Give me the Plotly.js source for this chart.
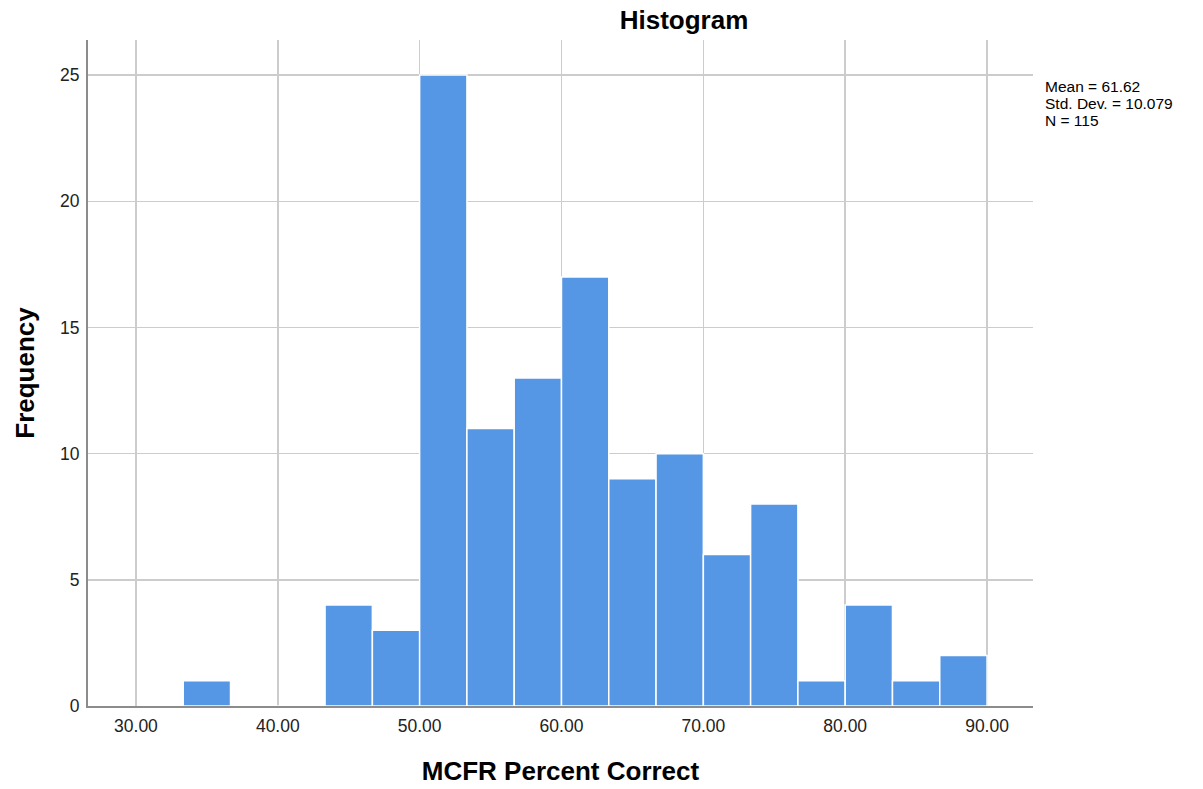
<!DOCTYPE html>
<html>
<head>
<meta charset="utf-8">
<script src="https://cdn.plot.ly/plotly-3.0.1.min.js"></script>
<style>html,body{margin:0;padding:0;background:#fff;}#chart{width:1203px;height:789px;}</style>
</head>
<body>
<div id="chart"></div>
<script>
// Bin lower edges (bin width 10/3) and frequencies
const binStarts = [33.333, 36.667, 40.0, 43.333, 46.667, 50.0, 53.333, 56.667, 60.0, 63.333, 66.667, 70.0, 73.333, 76.667, 80.0, 83.333, 86.667];
const frequencies = [1, 0, 0, 4, 3, 25, 11, 13, 17, 9, 10, 6, 8, 1, 4, 1, 2];
const binWidth = 10 / 3;
const xTickVals = [30, 40, 50, 60, 70, 80, 90];
const xTickText = ["30.00", "40.00", "50.00", "60.00", "70.00", "80.00", "90.00"];
const yTickVals = [0, 5, 10, 15, 20, 25];
const statsLines = ["Mean = 61.62", "Std. Dev. = 10.079", "N = 115"];

const centers = binStarts.map(s => s + binWidth / 2);

const trace = {
  type: 'bar',
  x: centers,
  y: frequencies,
  width: binWidth,
  marker: { color: '#5596e5', line: { color: '#ffffff', width: 1.5 } },
  hoverinfo: 'x+y'
};

const statsY = [0.9309, 0.9047, 0.8784];
const annotations = statsLines.map((t, i) => ({
  xref: 'paper', yref: 'paper', x: 1.012, y: statsY[i], xanchor: 'left', yanchor: 'middle',
  align: 'left', showarrow: false, text: t, borderpad: 0,
  font: { size: 15.5, color: '#000' }
}));

const layout = {
  width: 1203, height: 789,
  margin: { l: 88, r: 170, t: 40, b: 83 },
  paper_bgcolor: '#ffffff', plot_bgcolor: '#ffffff',
  font: { family: 'Liberation Sans, Arial, sans-serif', color: '#000' },
  showlegend: false,
  bargap: 0,
  title: { text: '<b>Histogram</b>', font: { size: 26, color: '#000' }, x: 0.5686, xanchor: 'center', y: 0.975, yanchor: 'middle' },
  xaxis: {
    range: [26.62, 93.24],
    tickvals: xTickVals, ticktext: xTickText,
    tickfont: { size: 17.5, color: '#222' },
    showgrid: true, gridcolor: '#cccccc', gridwidth: 1.5,
    zeroline: false,
    showline: true, linecolor: '#8c8c8c', linewidth: 2,
    ticks: '', ticklabelstandoff: 3,
    title: { text: '<b>MCFR Percent Correct</b>', font: { size: 26 }, standoff: 27 }
  },
  yaxis: {
    range: [0, 26.39],
    tickvals: yTickVals,
    tickfont: { size: 17.5, color: '#222' },
    showgrid: true, gridcolor: '#cccccc', gridwidth: 1.5,
    zeroline: false,
    showline: true, linecolor: '#8c8c8c', linewidth: 2,
    ticks: '', ticklabelstandoff: 3,
    title: { text: '<b>Frequency</b>', font: { size: 26 }, standoff: 18 }
  },
  annotations: annotations
};

Plotly.newPlot('chart', [trace], layout, { displayModeBar: false, staticPlot: true });
</script>
</body>
</html>
